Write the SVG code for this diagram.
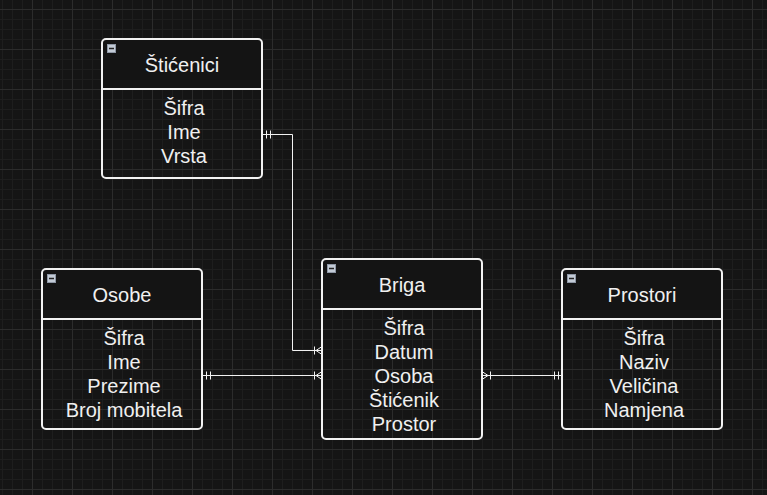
<svg xmlns="http://www.w3.org/2000/svg" width="767" height="495" viewBox="0 0 767 495">
<defs>
<pattern id="minor" x="2" y="9" width="10" height="10" patternUnits="userSpaceOnUse">
<path d="M0,0.5 H10 M0.5,0 V10" stroke="#1e1e1e" stroke-width="1" fill="none"/>
</pattern>
<pattern id="major" x="32" y="9" width="40" height="40" patternUnits="userSpaceOnUse">
<path d="M0,0.5 H40 M0.5,0 V40" stroke="#2c2c2c" stroke-width="1" fill="none"/>
</pattern>
</defs>
<style>
.box{fill:none;stroke:#f2f2f2;stroke-width:2}
.hdr{fill:#141414}
.div{stroke:#f2f2f2;stroke-width:2}
.ttl,.itm{font-family:"Liberation Sans",Arial,sans-serif;font-size:20px;fill:#f0f0f0;text-anchor:middle}
.ico{fill:#c3cbd6;stroke:#8f98a6;stroke-width:1}
.icm{stroke:#222;stroke-width:1.5}
.edge{fill:none;stroke:#f2f2f2;stroke-width:1}
</style>
<rect width="767" height="495" fill="#151515"/>
<rect width="767" height="495" fill="url(#minor)"/>
<rect width="767" height="495" fill="url(#major)"/>

<g id="connectors">
<path class="edge" d="M262,134.5 H292.5 V350.5 H322"/>
<path class="edge" d="M266.5,130.5 V138.5 M270.5,130.5 V138.5"/>
<path class="edge" d="M314.5,346.5 V354.5 M316,350.5 L322,346.5 M316,350.5 L322,354.5"/>
<path class="edge" d="M202,375.5 H322"/>
<path class="edge" d="M206.5,371.5 V379.5 M210.5,371.5 V379.5"/>
<path class="edge" d="M314.5,371.5 V379.5 M316,375.5 L322,371.5 M316,375.5 L322,379.5"/>
<path class="edge" d="M482,375.5 H562"/>
<path class="edge" d="M490.5,371.5 V379.5 M488,375.5 L482,371.5 M488,375.5 L482,379.5"/>
<path class="edge" d="M554.5,371.5 V379.5 M558.5,371.5 V379.5"/>
</g>

<g id="sticenici">
<path class="hdr" d="M102,89 V43 A4,4 0 0 1 106,39 H258 A4,4 0 0 1 262,43 V89 Z"/>
<rect class="box" x="102" y="39" width="160" height="139" rx="4"/>
<line class="div" x1="102" y1="89" x2="262" y2="89"/>
<rect class="ico" x="107.5" y="44.5" width="8" height="8"/>
<line class="icm" x1="109" y1="48.5" x2="114" y2="48.5"/>
<text class="ttl" x="182" y="72">Štićenici</text>
<text class="itm" x="184" y="115">Šifra</text>
<text class="itm" x="184" y="139">Ime</text>
<text class="itm" x="184" y="163">Vrsta</text>
</g>

<g id="osobe">
<path class="hdr" d="M42,319 V273 A4,4 0 0 1 46,269 H198 A4,4 0 0 1 202,273 V319 Z"/>
<rect class="box" x="42" y="269" width="160" height="160" rx="4"/>
<line class="div" x1="42" y1="319" x2="202" y2="319"/>
<rect class="ico" x="47.5" y="274.5" width="8" height="8"/>
<line class="icm" x1="49" y1="278.5" x2="54" y2="278.5"/>
<text class="ttl" x="122" y="302">Osobe</text>
<text class="itm" x="124" y="345">Šifra</text>
<text class="itm" x="124" y="369">Ime</text>
<text class="itm" x="124" y="393">Prezime</text>
<text class="itm" x="124" y="417">Broj mobitela</text>
</g>

<g id="briga">
<path class="hdr" d="M322,309 V263 A4,4 0 0 1 326,259 H478 A4,4 0 0 1 482,263 V309 Z"/>
<rect class="box" x="322" y="259" width="160" height="180" rx="4"/>
<line class="div" x1="322" y1="309" x2="482" y2="309"/>
<rect class="ico" x="327.5" y="264.5" width="8" height="8"/>
<line class="icm" x1="329" y1="268.5" x2="334" y2="268.5"/>
<text class="ttl" x="402" y="292">Briga</text>
<text class="itm" x="404" y="335">Šifra</text>
<text class="itm" x="404" y="359">Datum</text>
<text class="itm" x="404" y="383">Osoba</text>
<text class="itm" x="404" y="407">Štićenik</text>
<text class="itm" x="404" y="431">Prostor</text>
</g>

<g id="prostori">
<path class="hdr" d="M562,319 V273 A4,4 0 0 1 566,269 H718 A4,4 0 0 1 722,273 V319 Z"/>
<rect class="box" x="562" y="269" width="160" height="160" rx="4"/>
<line class="div" x1="562" y1="319" x2="722" y2="319"/>
<rect class="ico" x="567.5" y="274.5" width="8" height="8"/>
<line class="icm" x1="569" y1="278.5" x2="574" y2="278.5"/>
<text class="ttl" x="642" y="302">Prostori</text>
<text class="itm" x="644" y="345">Šifra</text>
<text class="itm" x="644" y="369">Naziv</text>
<text class="itm" x="644" y="393">Veličina</text>
<text class="itm" x="644" y="417">Namjena</text>
</g>
</svg>
